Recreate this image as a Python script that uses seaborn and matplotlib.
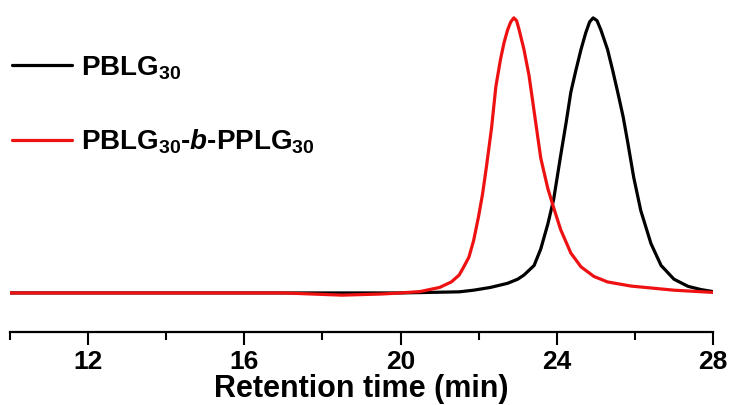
import matplotlib
matplotlib.use("Agg")
import matplotlib.pyplot as plt
import pandas as pd
import seaborn as sns
from matplotlib.ticker import MultipleLocator

# PBLG30 trace (retention time in min, normalized detector signal)
pblg_time = [10.0, 14.0, 18.0, 20.0, 21.5, 21.87, 22.3, 22.74, 23.0, 23.16, 23.42,
             23.59, 23.77, 23.92, 24.10, 24.24, 24.36, 24.49, 24.62, 24.74, 24.84,
             24.93, 25.03, 25.13, 25.3, 25.43, 25.56, 25.70, 25.82, 25.97, 26.15,
             26.41, 26.67, 27.0, 27.36, 27.7, 28.0]
pblg_signal = [0.0, 0.0, 0.0, 0.0, 0.004, 0.01, 0.02, 0.035, 0.05, 0.065, 0.10,
               0.16, 0.25, 0.34, 0.50, 0.62, 0.73, 0.81, 0.885, 0.945, 0.985,
               1.0, 0.99, 0.956, 0.885, 0.81, 0.73, 0.64, 0.545, 0.42, 0.30,
               0.18, 0.10, 0.05, 0.024, 0.012, 0.005]

# PBLG30-b-PPLG30 trace
copoly_time = [10.0, 14.0, 17.0, 18.5, 19.5, 20.0, 20.5, 21.0, 21.3, 21.5, 21.6,
               21.75, 21.87, 22.0, 22.1, 22.2, 22.33, 22.44, 22.56, 22.65, 22.74,
               22.82, 22.9, 22.97, 23.03, 23.16, 23.29, 23.41, 23.59, 23.77, 23.92,
               24.10, 24.36, 24.62, 24.95, 25.3, 25.9, 27.0, 28.0]
copoly_signal = [0.0, 0.0, 0.0, -0.008, -0.004, 0.0, 0.005, 0.02, 0.04, 0.065, 0.09,
                 0.13, 0.19, 0.28, 0.36, 0.46, 0.60, 0.75, 0.85, 0.91, 0.956,
                 0.985, 1.0, 0.99, 0.96, 0.885, 0.79, 0.67, 0.49, 0.38, 0.31,
                 0.23, 0.145, 0.095, 0.06, 0.04, 0.025, 0.01, 0.002]

labels = [r"$\mathrm{PBLG}_{\mathrm{30}}$",
          r"$\mathrm{PBLG}_{\mathrm{30}}$-$\mathit{b}$-$\mathrm{PPLG}_{\mathrm{30}}$"]
colors = ["#000000", "#ee1111"]


def main():
    sns.set_theme(style="ticks")
    plt.rcParams["font.family"] = ["Liberation Sans", "DejaVu Sans"]
    plt.rcParams["font.weight"] = "bold"
    plt.rcParams["text.color"] = "black"
    plt.rcParams["axes.labelcolor"] = "black"
    plt.rcParams["xtick.color"] = "black"
    plt.rcParams["axes.edgecolor"] = "black"
    plt.rcParams["mathtext.fontset"] = "custom"
    plt.rcParams["mathtext.rm"] = "Liberation Sans:bold"
    plt.rcParams["mathtext.it"] = "Liberation Sans:bold:italic"
    plt.rcParams["mathtext.bf"] = "Liberation Sans:bold"

    df = pd.concat([
        pd.DataFrame({"time": pblg_time, "signal": pblg_signal, "sample": labels[0]}),
        pd.DataFrame({"time": copoly_time, "signal": copoly_signal, "sample": labels[1]}),
    ], ignore_index=True)

    fig = plt.figure(figsize=(7.32, 4.05), dpi=100)
    ax = fig.add_axes([10 / 732, 73 / 405, 703 / 732, 332 / 405])
    sns.lineplot(data=df, x="time", y="signal", hue="sample", hue_order=labels,
                 palette=dict(zip(labels, colors)), linewidth=2.3, ax=ax,
                 sort=False, estimator=None)
    for line in ax.lines:
        line.set_solid_joinstyle("round")

    ax.set_xlim(10, 28)
    ax.set_ylim(-0.142, 1.065)
    ax.xaxis.set_minor_locator(MultipleLocator(2))
    ax.set_xticks([12, 16, 20, 24, 28])
    ax.tick_params(axis="x", which="major", length=9, width=1.5, labelsize=19, pad=4)
    ax.tick_params(axis="x", which="minor", length=6, width=1.5)
    ax.set_yticks([])
    for side in ["left", "top", "right"]:
        ax.spines[side].set_visible(False)
    ax.spines["bottom"].set_linewidth(1.6)
    ax.set_xlabel("Retention time (min)", fontsize=22, fontweight="bold", labelpad=0)
    ax.set_ylabel("")

    ax.legend(loc="upper left", bbox_to_anchor=(12 / 732, 1 - 54 / 405),
              bbox_transform=fig.transFigure, frameon=False, fontsize=20,
              handlelength=2.15, handletextpad=0.35, labelspacing=1.65,
              borderpad=0, borderaxespad=0)

    fig.savefig("out.png", dpi=100)


if __name__ == "__main__":
    main()
